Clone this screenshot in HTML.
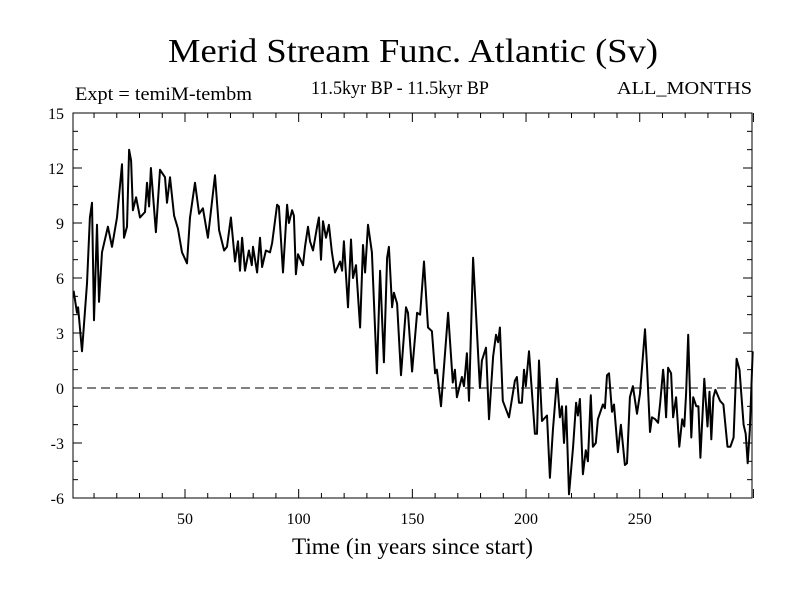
<!DOCTYPE html>
<html><head><meta charset="utf-8"><style>
html,body{margin:0;padding:0;background:#fff;}
svg{display:block;font-family:"Liberation Serif",serif;}
</style></head><body>
<svg id="chart" width="800" height="600">
<text x="168" y="62" font-size="34" textLength="490" lengthAdjust="spacingAndGlyphs">Merid Stream Func. Atlantic (Sv)</text>
<text x="75" y="100" font-size="19" textLength="177" lengthAdjust="spacingAndGlyphs">Expt = temiM-tembm</text>
<text x="311" y="94" font-size="19" textLength="178" lengthAdjust="spacingAndGlyphs">11.5kyr BP - 11.5kyr BP</text>
<text x="617" y="94" font-size="18" textLength="135" lengthAdjust="spacingAndGlyphs">ALL_MONTHS</text>
<text x="292" y="554" font-size="23" textLength="241" lengthAdjust="spacingAndGlyphs">Time (in years since start)</text>
<g id="axes"></g>
<g id="plot"></g>
</svg>
<script>
const years=[1,2.5,3,4.7,6.9,8.2,9.1,10,11.3,12.2,13.5,16.1,17.9,20.1,22.3,23.2,24.5,25.4,26.3,27.1,28.5,30.2,32.4,33.3,34.2,35,37.2,39,41.2,42.1,43.4,45.2,46.9,48.7,50.9,52.2,54.4,56.2,57.9,60.1,63.2,65,67.2,68.5,70.2,72,73.3,74.2,75.1,76.4,78.1,79.4,79.9,81.7,83,83.9,85.6,87.4,88.3,90.5,91.3,93.1,94.9,95.7,97.1,97.9,98.8,99.7,101.9,102.8,104.1,105,106.3,108.1,108.9,109.8,110.7,112,113.3,114.6,116,118.2,119.1,119.9,121.7,123,123.9,125.2,127,128.3,129.2,130.5,132.2,134.4,135.8,137.5,138.9,139.7,141.1,141.9,143.3,145,147.2,148.1,149.9,152.1,153.4,155.1,156.9,158.6,160,160.8,162.6,165.7,167.8,168.7,169.6,171.8,172.7,174,174.9,176.7,179.7,180.6,182.4,183.7,185.5,186.8,187.7,188.5,189.8,192.5,195.1,196,196.9,198.2,199.1,199.9,201.3,203.9,204.8,205.7,207,209.2,210.5,211.8,213.6,214.9,215.8,216.7,217.6,218.9,220.7,222,222.8,223.7,225,226.3,227.2,228.5,229.4,230.7,231.6,233.8,234.7,235.6,236.5,237.8,238.7,240.4,241.7,243.5,244.4,245.7,247,248.8,250.1,252.3,253.2,254.5,255.4,256.8,258.1,259,260.3,260.7,261.6,262.5,263.8,264.7,266,266.9,267.4,268.7,269.6,270.4,271.3,272.7,273.5,274.9,275.8,276.7,278.4,279.8,280.7,281.5,282.4,283.3,285.3,286.8,288.6,289.9,291.3,292.6,293.9,295.7,296.6,297.5,298.4,299.7];
const values=[5.3,4.1,4.4,2.0,5.7,9.3,10.1,3.7,8.9,4.7,7.4,8.8,7.7,9.3,12.2,8.2,8.8,13.0,12.4,9.7,10.4,9.3,9.6,11.2,9.9,12.0,8.5,11.9,11.5,10.1,11.5,9.4,8.7,7.4,6.8,9.3,11.2,9.5,9.8,8.2,11.6,8.6,7.5,7.7,9.3,6.9,8.0,6.4,8.2,6.4,7.5,6.7,7.7,6.3,8.2,6.6,7.5,7.4,7.9,10.0,9.9,6.3,10.0,9.0,9.7,9.4,6.2,7.3,6.7,7.7,8.8,8.0,7.5,8.8,9.3,7.0,9.1,8.2,8.9,7.4,6.3,6.9,6.4,8.0,4.4,8.1,6.0,6.7,3.3,7.8,6.3,8.9,7.4,0.8,6.4,1.4,7.1,7.7,4.4,5.2,4.6,0.7,4.4,4.1,0.9,4.1,4.0,6.9,3.3,3.1,0.8,1.0,-1.0,4.1,0.3,1.0,-0.5,0.6,0.1,1.9,-0.7,7.1,0.0,1.5,2.2,-1.7,1.7,2.9,2.5,3.3,-0.7,-1.6,0.4,0.6,-0.8,-0.8,1.0,0.1,2.0,-2.5,-2.5,1.5,-1.8,-1.5,-4.9,-2.3,0.5,-1.6,-1.0,-3.0,-1.0,-5.8,-3.2,-0.8,-1.5,-0.6,-4.7,-3.4,-4.0,-0.4,-3.2,-3.0,-1.7,-0.9,-1.1,0.7,0.8,-1.3,-0.9,-3.5,-2.0,-4.2,-4.1,-0.5,0.1,-1.4,-0.3,3.2,1.2,-2.4,-1.6,-1.7,-1.9,-0.8,1.0,0.4,-1.6,1.1,0.8,-1.6,-0.5,-2.3,-3.2,-1.7,-2.1,-0.3,2.9,-2.7,-0.5,-1.0,-1.0,-3.8,0.5,-2.1,-0.2,-2.8,-0.5,-0.1,-0.7,-0.9,-3.2,-3.2,-2.7,1.6,1.0,-2.0,-2.5,-4.1,-2.3,2.0];
const yTicks=[-6,-3,0,3,6,9,12,15];
const xTicks=[50,100,150,200,250];
const NS='http://www.w3.org/2000/svg';
const L=73,R=752,T=113,B=498;
function xs(v){return 71.3+v*2.2737;}
function ys(v){return B-(v+6)*(B-T)/21;}
function mk(tag,attrs,parent){const e=document.createElementNS(NS,tag);for(const k in attrs)e.setAttribute(k,attrs[k]);parent.appendChild(e);return e;}
const axes=document.getElementById('axes');
const plot=document.getElementById('plot');
for(let v=-6;v<=15;v++){
  const len=(v%3===0)?9:5;
  const t1=mk('line',{x1:L,x2:L+len,y1:ys(v),y2:ys(v),stroke:'#000','stroke-width':1},axes);
  
  
  const t2=mk('line',{x1:R,x2:R-len,y1:ys(v),y2:ys(v),stroke:'#000','stroke-width':1},axes);
  
  
}
yTicks.forEach(v=>{
  const t=mk('text',{x:L-9,y:ys(v)+6,'font-size':16,'text-anchor':'end'},axes);
  t.textContent=v;
  
  
});
for(let v=10;v<=300;v+=10){
  const len=(v%50===0)?9:5;
  const t1=mk('line',{x1:xs(v),x2:xs(v),y1:B,y2:B-len,stroke:'#000','stroke-width':1},axes);
  
  
  const t2=mk('line',{x1:xs(v),x2:xs(v),y1:T,y2:T+len,stroke:'#000','stroke-width':1},axes);
  
  
}
xTicks.forEach(v=>{
  const t=mk('text',{x:xs(v),y:B+26,'font-size':16,'text-anchor':'middle'},axes);
  t.textContent=v;
  
  
});
const zl=mk('line',{x1:L,x2:R,y1:ys(0),y2:ys(0),stroke:'#000','stroke-width':1,'stroke-dasharray':'9,5'},plot);


let d='';
years.forEach((yr,i)=>{d+=(i?'L':'M')+xs(yr).toFixed(1)+','+ys(values[i]).toFixed(1);});
const ln=mk('path',{d:d,fill:'none',stroke:'#000','stroke-width':2,'stroke-linejoin':'round'},plot);


const fr=mk('rect',{x:L,y:T,width:R-L,height:B-T,fill:'none',stroke:'#000','stroke-width':1},axes);


</script>
</body></html>
